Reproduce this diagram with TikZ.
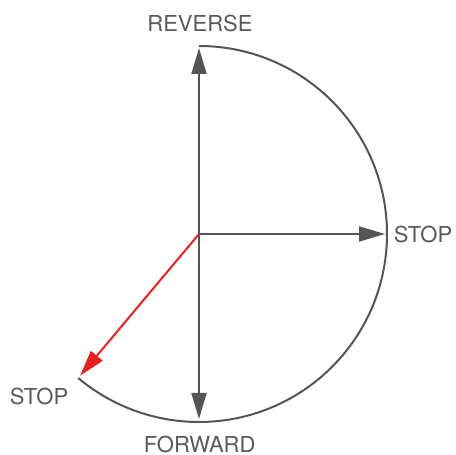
\documentclass[tikz,border=0pt]{standalone}
\usepackage{fontspec}
\setmainfont{TeX Gyre Heros}
\usepackage{xcolor}
\usepackage{tikz}
\usetikzlibrary{arrows.meta,positioning,calc}

\definecolor{dialgray}{RGB}{85,85,85}
\definecolor{labelgray}{RGB}{90,90,90}
\definecolor{dialred}{RGB}{232,32,36}

\begin{document}
\begin{tikzpicture}[x=1pt,y=1pt,
  >={Triangle[length=26pt,width=15pt]},
  dir/.style={->,dialgray,line width=2pt},
  lbl/.style={font=\fontsize{22}{24}\selectfont,text=labelgray,inner sep=0pt}]
  \useasboundingbox (0,0) rectangle (456,455);
  % centro e punte
  \coordinate (o) at (199,221);
  \coordinate (rev) at (199,407);
  \coordinate (stp) at (385,221);
  \coordinate (fwd) at (199,36);
  \coordinate (stpb) at (80.1,79.3);
  % arco del quadrante
  \draw[dialgray,line width=2pt] (199,409) arc[start angle=90,end angle=-130,radius=188];
  % direzioni
  \draw[dir] (o)--(rev);
  \draw[dir] (o)--(stp);
  \draw[dir] (o)--(fwd);
  \draw[->,dialred,line width=2pt] (o)--(stpb);
  % etichette
  \node[lbl] (lrev) at (200,431.5) {REVERSE};
  \node[lbl] (lstp) at (423,220.5) {STOP};
  \node[lbl] (lstpb) at (39,59) {STOP};
  \node[lbl] (lfwd) at (199.7,10.5) {FORWARD};
\end{tikzpicture}
\end{document}
